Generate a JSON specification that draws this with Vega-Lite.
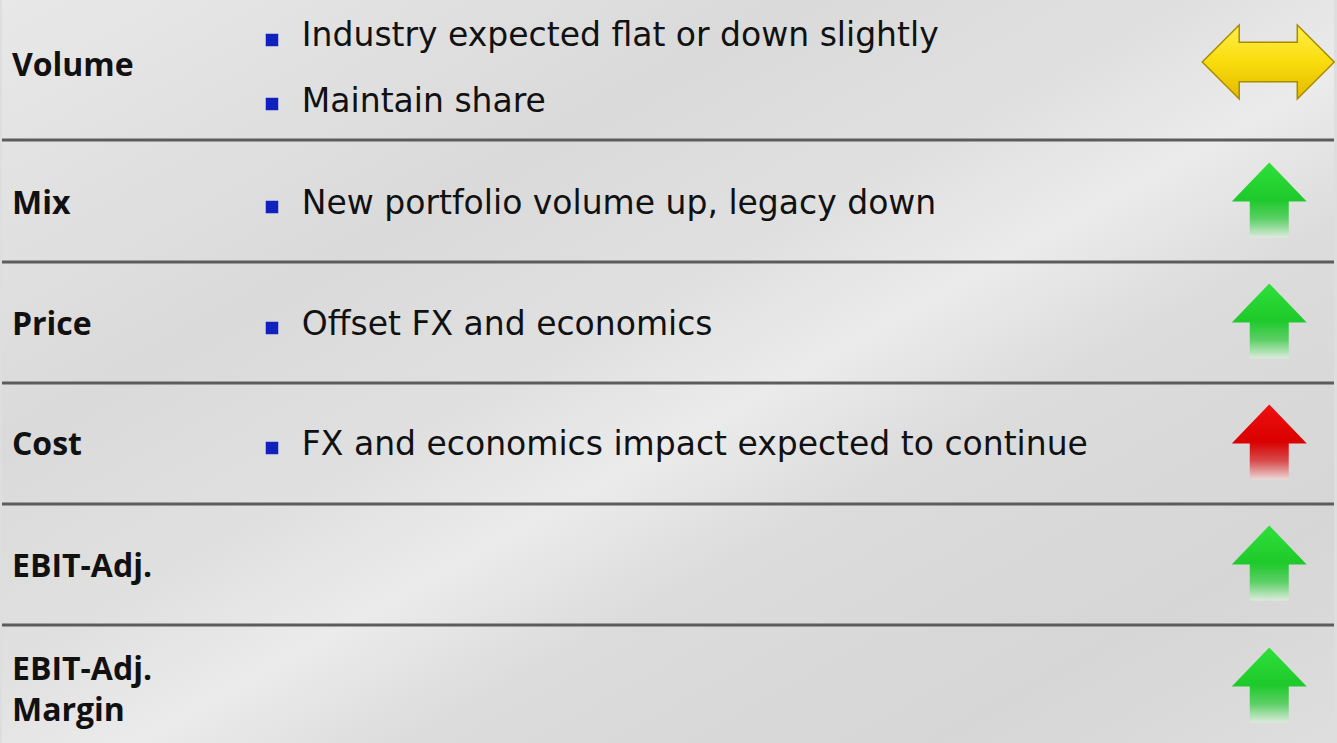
{
  "$schema": "https://vega.github.io/schema/vega-lite/v6.json",
  "width": 1337,
  "height": 743,
  "autosize": {"type": "fit", "contains": "padding"},
  "padding": 0,
  "background": "#dedede",
  "config": {"view": {"stroke": null}, "axis": {"disable": true}},
  "datasets": {
    "labels": [
      {"label": ["Volume"], "x": 10, "y": 76},
      {"label": ["Mix"], "x": 10, "y": 214},
      {"label": ["Price"], "x": 10, "y": 335},
      {"label": ["Cost"], "x": 10, "y": 455},
      {"label": ["EBIT-Adj."], "x": 10, "y": 577},
      {"label": ["EBIT-Adj.", "Margin"], "x": 10, "y": 680}
    ],
    "points": [
      {"row": "Volume", "text": "Industry expected flat or down slightly", "x": 301, "y": 46},
      {"row": "Volume", "text": "Maintain share", "x": 301, "y": 112},
      {"row": "Mix", "text": "New portfolio volume up, legacy down", "x": 301, "y": 214},
      {"row": "Price", "text": "Offset FX and economics", "x": 301, "y": 335},
      {"row": "Cost", "text": "FX and economics impact expected to continue", "x": 301, "y": 455}
    ],
    "bullets": [
      {"row": "Volume", "x": 271, "y": 40},
      {"row": "Volume", "x": 271, "y": 104},
      {"row": "Mix", "x": 271, "y": 207},
      {"row": "Price", "x": 271, "y": 328},
      {"row": "Cost", "x": 271, "y": 448}
    ],
    "dividers": [
      {"y": 140}, {"y": 262}, {"y": 383}, {"y": 504}, {"y": 625}
    ],
    "trends": [
      {"row": "Volume", "trend": "flat", "x": 1271, "y": 62},
      {"row": "Mix", "trend": "up", "x": 1272, "y": 200},
      {"row": "Price", "trend": "up", "x": 1272, "y": 321},
      {"row": "Cost", "trend": "cost up", "x": 1272, "y": 442},
      {"row": "EBIT-Adj.", "trend": "up", "x": 1272, "y": 563},
      {"row": "EBIT-Adj. Margin", "trend": "up", "x": 1272, "y": 685}
    ]
  },
  "resolve": {"scale": {"x": "shared", "y": "shared"}},
  "layer": [
    {
      "data": {"values": [{"a": 1}]},
      "mark": {
        "type": "rect",
        "strokeWidth": 0,
        "fill": {
          "gradient": "linear", "x1": 0, "y1": 0, "x2": 1, "y2": 1,
          "stops": [
            {"offset": 0, "color": "#e8e8e8"},
            {"offset": 0.3, "color": "#dadada"},
            {"offset": 0.45, "color": "#e0e0e0"},
            {"offset": 0.55, "color": "#ebebeb"},
            {"offset": 0.65, "color": "#dcdcdc"},
            {"offset": 0.85, "color": "#d6d6d6"},
            {"offset": 1, "color": "#dedede"}
          ]
        }
      },
      "encoding": {}
    },
    {
      "data": {"name": "dividers"},
      "mark": {"type": "rule", "color": "#5c5c5c", "strokeWidth": 3},
      "encoding": {
        "y": {"field": "y", "type": "quantitative", "scale": {"domain": [0, 743], "nice": false, "zero": false, "reverse": true}, "axis": null}
      }
    },
    {
      "data": {"name": "labels"},
      "mark": {"type": "text", "align": "left", "baseline": "alphabetic", "font": "Open Sans", "fontWeight": "bold", "fontSize": 32, "lineHeight": 41, "color": "#111111"},
      "encoding": {
        "x": {"field": "x", "type": "quantitative", "scale": {"domain": [0, 1337], "nice": false, "zero": false}, "axis": null},
        "y": {"field": "y", "type": "quantitative", "axis": null},
        "text": {"field": "label"}
      }
    },
    {
      "data": {"name": "points"},
      "mark": {"type": "text", "align": "left", "baseline": "alphabetic", "font": "DejaVu Sans", "fontSize": 33, "color": "#111111"},
      "encoding": {
        "x": {"field": "x", "type": "quantitative", "axis": null},
        "y": {"field": "y", "type": "quantitative", "axis": null},
        "text": {"field": "text"}
      }
    },
    {
      "data": {"name": "bullets"},
      "mark": {"type": "square", "filled": true, "size": 156, "color": "#0f22c0", "opacity": 1},
      "encoding": {
        "x": {"field": "x", "type": "quantitative", "axis": null},
        "y": {"field": "y", "type": "quantitative", "axis": null}
      }
    },
    {
      "data": {"name": "trends"},
      "transform": [{"filter": "datum.trend === 'flat'"}],
      "mark": {
        "type": "point", "filled": true, "opacity": 1, "size": 17424,
        "shape": "M-1,0 L-0.44,-0.56 L-0.44,-0.3 L0.44,-0.3 L0.44,-0.56 L1,0 L0.44,0.56 L0.44,0.3 L-0.44,0.3 L-0.44,0.56 Z",
        "fill": {
          "gradient": "linear", "x1": 0, "y1": 0, "x2": 0, "y2": 1,
          "stops": [
            {"offset": 0, "color": "#fff04a"},
            {"offset": 0.5, "color": "#f9dc0c"},
            {"offset": 1, "color": "#e2ba00"}
          ]
        },
        "stroke": "#a88c00", "strokeWidth": 1.5
      },
      "encoding": {
        "x": {"field": "x", "type": "quantitative", "axis": null},
        "y": {"field": "y", "type": "quantitative", "axis": null}
      }
    },
    {
      "data": {"name": "trends"},
      "transform": [{"filter": "datum.trend === 'up'"}],
      "mark": {
        "type": "point", "filled": true, "opacity": 1, "size": 5625,
        "shape": "M0,-1 L1,0.04 L0.52,0.04 L0.52,1 L-0.52,1 L-0.52,0.04 L-1,0.04 Z",
        "fill": {
          "gradient": "linear", "x1": 0, "y1": 0, "x2": 0, "y2": 1,
          "stops": [
            {"offset": 0, "color": "#2ee03a"},
            {"offset": 0.5, "color": "#1ec92b"},
            {"offset": 0.75, "color": "#5ccf66"},
            {"offset": 1, "color": "#dcebdc"}
          ]
        },
        "strokeWidth": 0
      },
      "encoding": {
        "x": {"field": "x", "type": "quantitative", "axis": null},
        "y": {"field": "y", "type": "quantitative", "axis": null}
      }
    },
    {
      "data": {"name": "trends"},
      "transform": [{"filter": "datum.trend === 'cost up'"}],
      "mark": {
        "type": "point", "filled": true, "opacity": 1, "size": 5625,
        "shape": "M0,-1 L1,0.04 L0.52,0.04 L0.52,1 L-0.52,1 L-0.52,0.04 L-1,0.04 Z",
        "fill": {
          "gradient": "linear", "x1": 0, "y1": 0, "x2": 0, "y2": 1,
          "stops": [
            {"offset": 0, "color": "#f01010"},
            {"offset": 0.5, "color": "#d80000"},
            {"offset": 0.75, "color": "#d84a4a"},
            {"offset": 1, "color": "#ecd8d8"}
          ]
        },
        "strokeWidth": 0
      },
      "encoding": {
        "x": {"field": "x", "type": "quantitative", "axis": null},
        "y": {"field": "y", "type": "quantitative", "axis": null}
      }
    }
  ]
}
